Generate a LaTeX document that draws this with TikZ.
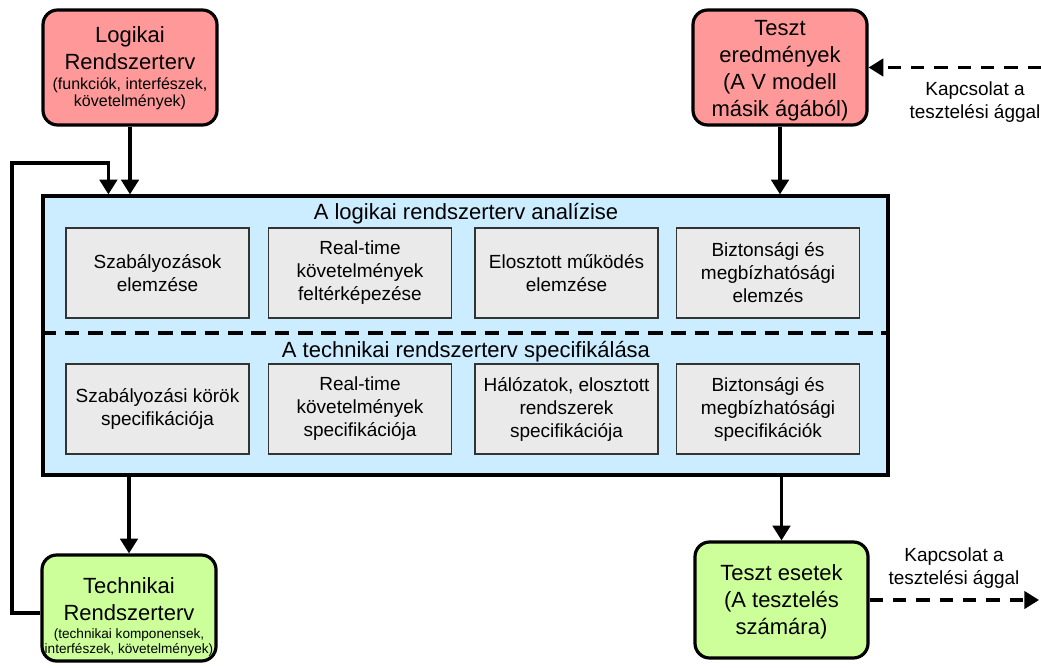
\documentclass[tikz,border=0pt]{standalone}
\usepackage{fontspec}
\setmainfont{Liberation Sans}
\usetikzlibrary{arrows.meta,calc}
\definecolor{logpink}{HTML}{FF9999}
\definecolor{techgreen}{HTML}{CCFF99}
\definecolor{panelblue}{HTML}{CCECFF}
\definecolor{cellgray}{HTML}{EAEAEA}
% a tight block of small centred lines set in the given size
\newcommand{\smallstack}[3]{{\fontsize{#1}{#2}\selectfont\begin{tabular}[t]{@{}c@{}}#3\end{tabular}}}
\begin{document}
\begin{tikzpicture}[x=0.75pt,y=-0.75pt,
  bigbox/.style={draw=black,line width=2.4pt,rounded corners=11pt,align=center,inner sep=0pt},
  bigfont/.style={font=\fontsize{16.5}{20.3}\selectfont},
  panel/.style={draw=black,line width=2.4pt,fill=panelblue,inner sep=0pt,
    minimum width=633.75pt,minimum height=209.25pt},
  cell/.style={draw=black!80,line width=1.1pt,fill=cellgray,align=center,inner sep=0pt,
    minimum width=137.25pt,minimum height=67.5pt,font=\fontsize{14.25}{17.25}\selectfont},
  paneltitle/.style={font=\fontsize{16.5}{20}\selectfont,inner sep=0pt},
  linklabel/.style={align=center,inner sep=0pt,font=\fontsize{14.25}{17.25}\selectfont},
  arr/.style={line width=2.5pt,-{Triangle[length=11pt,width=13pt]}},
  dasharr/.style={line width=2.4pt,dash pattern=on 10pt off 7.5pt,-{Triangle[length=11pt,width=13pt]}},
  divider/.style={line width=2.4pt,dash pattern=on 11pt off 6.5pt}]
\useasboundingbox (0,0) rectangle (1041,667);

% top boxes
\node[bigbox,fill=logpink,minimum width=130.5pt,minimum height=86.25pt] (logi) at (130,67.5) {};
\node[bigfont,align=center,inner sep=0pt,anchor=north] (logitxt) at (130,26)
  {Logikai\\Rendszerterv\\[-5pt]\smallstack{12}{12.5}{(funkciók, interfészek,\\követelmények)}};
\node[bigbox,bigfont,fill=logpink,minimum width=130.5pt,minimum height=86.25pt] (tr) at (780,67.5) {};
\node[bigfont,align=center,inner sep=0pt] (trtxt) at (780,70.5)
  {Teszt\\eredmények\\(A V modell\\másik ágából)};

% central panel
\node[panel] (main) at (465.5,335.5) {};
\node[paneltitle] (t1) at (466,214) {A logikai rendszerterv analízise};
\node[paneltitle] (t2) at (466,352) {A technikai rendszerterv specifikálása};
\draw[divider] ($(main.west)+(0,-2.5)$) -- ($(main.east)+(0,-2.5)$);

\node[cell] (a1) at (157.5,273) {Szabályozások\\elemzése};
\node[cell] (a2) at (360,273) {Real-time\\követelmények\\feltérképezése};
\node[cell] (a3) at (566.5,273) {Elosztott működés\\elemzése};
\node[cell] (a4) at (768,273) {Biztonsági és\\megbízhatósági\\elemzés};
\node[cell] (b1) at (157.5,409) {Szabályozási körök\\specifikációja};
\node[cell] (b2) at (360,409) {Real-time\\követelmények\\specifikációja};
\node[cell] (b3) at (566.5,409) {Hálózatok, elosztott\\rendszerek\\specifikációja};
\node[cell] (b4) at (768,409) {Biztonsági és\\megbízhatósági\\specifikációk};

% bottom boxes
\node[bigbox,fill=techgreen,minimum width=130.5pt,minimum height=79.5pt] (tech) at (129,608) {};
\node[bigfont,align=center,inner sep=0pt,anchor=north] (techtxt) at (129,577)
  {Technikai\\Rendszerterv\\[-7pt]\smallstack{10.2}{11.4}{(technikai komponensek,\\interfészek, követelmények)}};
\node[bigbox,bigfont,fill=techgreen,minimum width=129.75pt,minimum height=87pt] (tc) at (781.5,600) {};
\node[bigfont,align=center,inner sep=0pt] (tctxt) at (781.5,602)
  {Teszt esetek\\(A tesztelés\\számára)};

% link labels
\node[linklabel] (l1) at (975,102) {Kapcsolat a\\tesztelési ággal};
\node[linklabel] (l2) at (954,568) {Kapcsolat a\\tesztelési ággal};

% connectors
\draw[arr] (logi.south) -- (logi.south |- main.north);
\draw[arr] (tr.south) -- (tr.south |- main.north);
\draw[arr] (main.south -| tech.north) -- (tech.north);
\draw[arr] (main.south -| tc.north) -- (tc.north);

\coordinate (fbstart) at ($(tech.west)+(0,5)$);
\coordinate (fbcorner) at (12,163);
\coordinate (fbend) at ($(main.north west)+(67,0)$);
\draw[arr] (fbstart) -| (fbcorner) -| (fbend);

\coordinate (inlink) at (1041,67.5);
\coordinate (outlink) at (1039,600);
\draw[dasharr] (inlink) -- (tr.east);
\draw[dasharr] (tc.east) -- (outlink);
\end{tikzpicture}
\end{document}
